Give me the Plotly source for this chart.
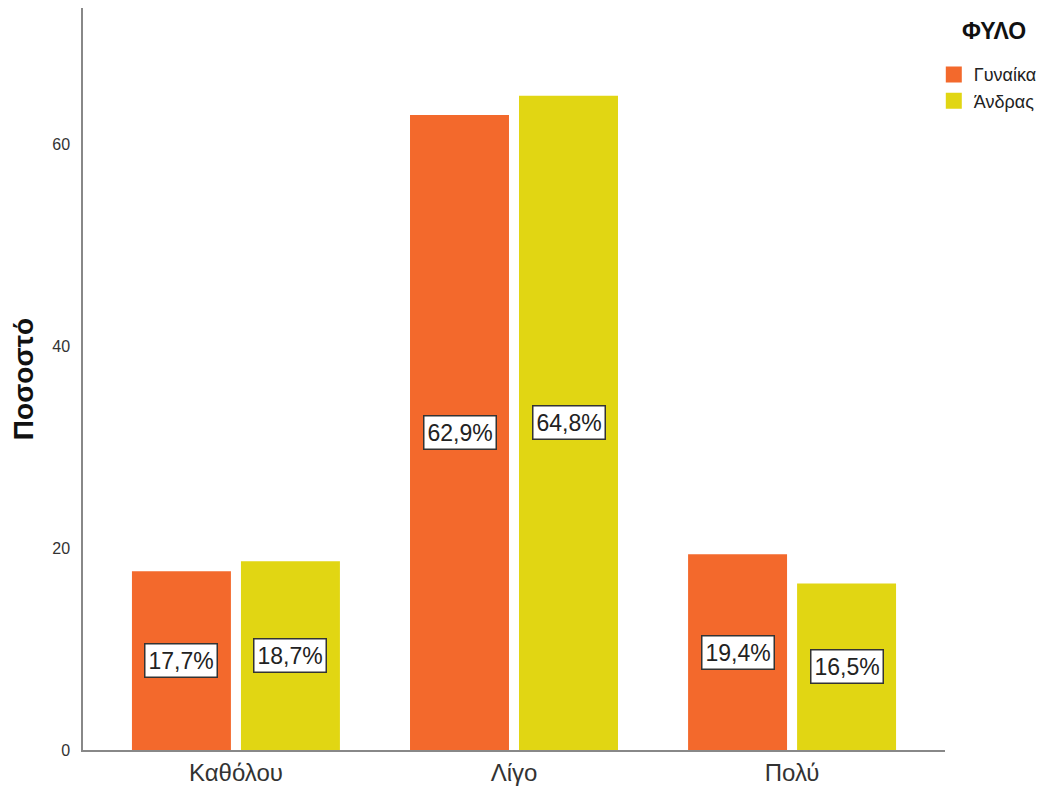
import plotly.graph_objects as go

categories = ["Καθόλου", "Λίγο", "Πολύ"]
series_names = ["Γυναίκα", "Άνδρας"]
women = [17.7, 62.9, 19.4]
men = [18.7, 64.8, 16.5]
y_ticks = [0, 20, 40, 60]

colors = ["#F3692C", "#E1D613"]
FONT = "Liberation Sans, Arial, sans-serif"

BARGAP = 0.216
GROUPGAP = 0.092

fig = go.Figure()
for name, vals, col in zip(series_names, [women, men], colors):
    fig.add_trace(go.Bar(x=categories, y=vals, name=name, legendgroup=name, showlegend=False,
                         marker=dict(color=col, line=dict(width=0))))
# legend entries with larger square swatches
for name, col in zip(series_names, colors):
    fig.add_trace(go.Scatter(x=[None], y=[None], mode="markers", name=name, legendgroup=name,
                             marker=dict(symbol="square", size=16, color=col), showlegend=True,
                             hoverinfo="skip"))

def fmt(v):
    return f"{v:.1f}".replace(".", ",") + "%"

slot = (1 - BARGAP) / 2
for si, vals in enumerate([women, men]):
    off = -slot / 2 if si == 0 else slot / 2
    for ci, v in enumerate(vals):
        fig.add_annotation(x=ci + off, y=v / 2, text=fmt(v), showarrow=False,
                           font=dict(family=FONT, size=23, color="#222"),
                           bgcolor="white", bordercolor="#333", borderwidth=1.5, borderpad=3)

fig.add_annotation(xref="paper", yref="paper", x=1.057, y=0.969, text="<b>ΦΥΛΟ</b>",
                   showarrow=False, xanchor="center", yanchor="middle",
                   font=dict(family=FONT, size=23, color="#111"))

fig.update_layout(
    width=1037, height=785,
    margin=dict(l=75, r=100, t=0, b=43, autoexpand=False),
    paper_bgcolor="white", plot_bgcolor="white",
    barmode="group", bargap=BARGAP, bargroupgap=GROUPGAP,
    showlegend=True,
    legend=dict(x=0.987, y=0.935, xanchor="left", yanchor="top",
                font=dict(family=FONT, size=18, color="#222"),
                itemwidth=30, tracegroupgap=0, traceorder="normal"),
    xaxis=dict(type="category", range=[-0.55, 2.55], showline=True, linecolor="#888", linewidth=1.5,
               showgrid=False, ticks="", tickfont=dict(family=FONT, size=24, color="#333")),
    yaxis=dict(range=[0, 73.5], tickvals=y_ticks, showline=True, linecolor="#888", linewidth=1.5,
               showgrid=False, zeroline=False, ticks="", ticklabelstandoff=8,
               tickfont=dict(family=FONT, size=16, color="#333"),
               title=dict(text="<b>Ποσοστό</b>", standoff=20,
                          font=dict(family=FONT, size=28, color="#111"))),
)

fig.write_html("out.html")
